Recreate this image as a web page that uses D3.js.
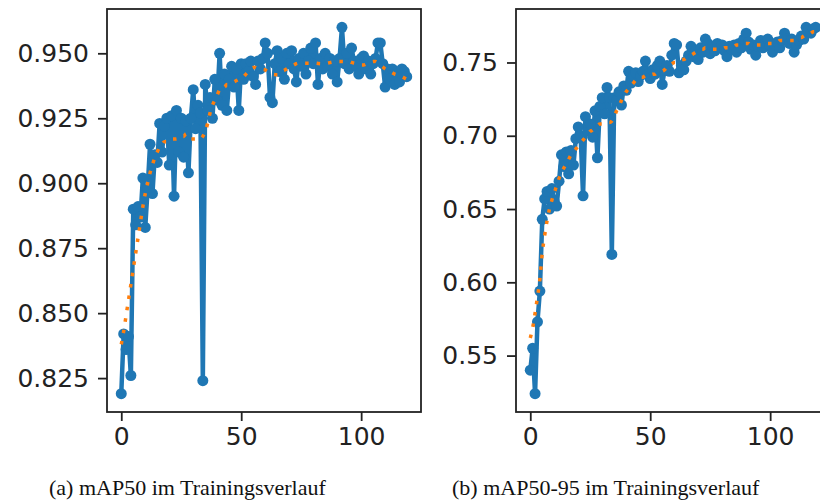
<!DOCTYPE html>
<html lang="de">
<head>
    <meta charset="utf-8">
    <title>mAP Trainingsverlauf</title>
    <script src="https://d3js.org/d3.v7.min.js"></script>
    <style>
        body {
            margin: 0;
            background-color: white;
        }

        svg {
            display: block;
            overflow: hidden;
        }

        .axis path, .axis line {
            fill: none;
            stroke: #222;
            stroke-width: 1.8px;
        }

        .axis text {
            fill: #222;
            font-family: "DejaVu Sans", sans-serif;
            font-size: 25px;
        }

        .frame {
            fill: none;
            stroke: #222;
            stroke-width: 1.8px;
        }

        .caption {
            font-family: "Liberation Serif", "DejaVu Serif", serif;
            font-size: 22px;
            fill: #111;
        }
    </style>
</head>
<body>
<div id="chart"></div>
<script>
    var epochs = d3.range(0, 120);

    var map50 = [
        0.819, 0.842, 0.836, 0.841, 0.826, 0.890, 0.884, 0.891, 0.887, 0.902,
        0.883, 0.898, 0.915, 0.896, 0.911, 0.908, 0.923, 0.912, 0.922, 0.925,
        0.907, 0.926, 0.895, 0.928, 0.912, 0.925, 0.910, 0.924, 0.904, 0.925,
        0.936, 0.921, 0.930, 0.927, 0.824, 0.938, 0.928, 0.933, 0.925, 0.940,
        0.932, 0.950, 0.930, 0.942, 0.928, 0.940, 0.945, 0.937, 0.944, 0.928,
        0.946, 0.940, 0.946, 0.943, 0.947, 0.941, 0.938, 0.947, 0.944, 0.948,
        0.954, 0.950, 0.933, 0.931, 0.946, 0.951, 0.943, 0.948, 0.940, 0.950,
        0.946, 0.951, 0.944, 0.939, 0.948, 0.945, 0.950, 0.942, 0.947, 0.952,
        0.946, 0.954, 0.938, 0.948, 0.944, 0.950, 0.945, 0.948, 0.942, 0.947,
        0.939, 0.948, 0.960, 0.946, 0.950, 0.944, 0.952, 0.947, 0.945, 0.942,
        0.948, 0.949, 0.944, 0.947, 0.942, 0.946, 0.948, 0.954, 0.954, 0.946,
        0.937, 0.944, 0.940, 0.944, 0.938, 0.942, 0.939, 0.944, 0.943, 0.941
    ];

    var map50Smooth = [
        0.838, 0.843, 0.849, 0.855, 0.861, 0.867, 0.873, 0.879, 0.885, 0.891,
        0.896, 0.900, 0.904, 0.907, 0.910, 0.912, 0.914, 0.915, 0.916, 0.916,
        0.917, 0.917, 0.917, 0.917, 0.918, 0.918, 0.918, 0.919, 0.918, 0.917,
        0.917, 0.917, 0.917, 0.917, 0.918, 0.920, 0.923, 0.927, 0.930, 0.932,
        0.934, 0.936, 0.937, 0.937, 0.938, 0.938, 0.9385, 0.939, 0.9395, 0.940,
        0.9405, 0.941, 0.942, 0.943, 0.944, 0.9445, 0.9445, 0.944, 0.944, 0.9438,
        0.9436, 0.943, 0.9425, 0.942, 0.9418, 0.9417, 0.942, 0.943, 0.9435, 0.944,
        0.9445, 0.945, 0.9455, 0.946, 0.9462, 0.9462, 0.9462, 0.9462, 0.9462, 0.9462,
        0.9462, 0.9462, 0.9461, 0.946, 0.946, 0.946, 0.9462, 0.9464, 0.9466, 0.9468,
        0.9468, 0.9468, 0.9468, 0.9468, 0.9468, 0.9468, 0.9465, 0.9462, 0.946, 0.9458,
        0.9455, 0.9455, 0.9458, 0.9462, 0.9465, 0.9468, 0.9468, 0.9462, 0.9455, 0.9448,
        0.944, 0.9435, 0.943, 0.9425, 0.942, 0.9417, 0.9412, 0.941, 0.9405, 0.940
    ];

    var map5095 = [
        0.540, 0.555, 0.524, 0.573, 0.594, 0.643, 0.657, 0.662, 0.650, 0.664,
        0.655, 0.652, 0.669, 0.687, 0.679, 0.689, 0.674, 0.690, 0.680, 0.698,
        0.706, 0.700, 0.659, 0.713, 0.703, 0.708, 0.699, 0.717, 0.685, 0.720,
        0.726, 0.715, 0.733, 0.726, 0.619, 0.726, 0.724, 0.730, 0.721, 0.734,
        0.731, 0.744, 0.736, 0.741, 0.743, 0.737, 0.741, 0.744, 0.751, 0.742,
        0.739, 0.745, 0.742, 0.748, 0.751, 0.735, 0.745, 0.748, 0.744, 0.755,
        0.763, 0.762, 0.743, 0.748, 0.745, 0.751, 0.755, 0.761, 0.754, 0.758,
        0.752, 0.760, 0.757, 0.766, 0.763, 0.756, 0.761, 0.758, 0.763, 0.760,
        0.762, 0.758, 0.754, 0.761, 0.759, 0.762, 0.757, 0.763, 0.760, 0.766,
        0.770, 0.764, 0.759, 0.762, 0.755, 0.761, 0.765, 0.760, 0.763, 0.766,
        0.761, 0.757, 0.762, 0.764, 0.760, 0.765, 0.770, 0.766, 0.763, 0.766,
        0.757, 0.762, 0.765, 0.768, 0.766, 0.774, 0.772, 0.770, 0.773, 0.774
    ];

    var map5095Smooth = [
        0.562, 0.569, 0.579, 0.590, 0.602, 0.620, 0.632, 0.642, 0.650, 0.656,
        0.661, 0.666, 0.671, 0.675, 0.678, 0.681, 0.684, 0.687, 0.689, 0.691,
        0.693, 0.695, 0.697, 0.699, 0.701, 0.703, 0.704, 0.706, 0.707, 0.708,
        0.708, 0.708, 0.709, 0.709, 0.710, 0.713, 0.717, 0.720, 0.724, 0.727,
        0.730, 0.732, 0.734, 0.736, 0.738, 0.739, 0.740, 0.740, 0.741, 0.741,
        0.741, 0.742, 0.742, 0.743, 0.743, 0.744, 0.745, 0.747, 0.748, 0.749,
        0.750, 0.750, 0.751, 0.752, 0.752, 0.753, 0.754, 0.755, 0.756, 0.757,
        0.758, 0.759, 0.759, 0.760, 0.760, 0.760, 0.759, 0.759, 0.759, 0.759,
        0.759, 0.760, 0.760, 0.760, 0.761, 0.761, 0.762, 0.762, 0.763, 0.763,
        0.763, 0.763, 0.762, 0.762, 0.762, 0.762, 0.762, 0.763, 0.763, 0.763,
        0.763, 0.763, 0.764, 0.764, 0.765, 0.765, 0.765, 0.765, 0.765, 0.765,
        0.765, 0.766, 0.767, 0.767, 0.768, 0.769, 0.769, 0.770, 0.771, 0.771
    ];

    var xTicks = [0, 50, 100];
    var yTicks50 = [0.825, 0.850, 0.875, 0.900, 0.925, 0.950];
    var yTicks5095 = [0.55, 0.60, 0.65, 0.70, 0.75];
    var captions = ["(a) mAP50 im Trainingsverlauf", "(b) mAP50-95 im Trainingsverlauf"];

    var W = 820, H = 502;
    var panelW = 314, panelTop = 9, panelBottom = 412;

    var svg = d3.select("#chart")
        .append("svg")
        .attr("width", W)
        .attr("height", H);

    // matplotlib style 5% padding around the data
    function padded(ext) {
        var m = (ext[1] - ext[0]) * 0.05;
        return [ext[0] - m, ext[1] + m];
    }

    function drawPanel(left, values, smooth, yTicks, fmt) {
        var x = d3.scaleLinear()
            .domain(padded(d3.extent(epochs)))
            .range([left, left + panelW]);
        var y = d3.scaleLinear()
            .domain(padded(d3.extent(values)))
            .range([panelBottom, panelTop]);

        var pts = epochs.map(function(e, i) { return [e, values[i]]; });
        var spts = epochs.map(function(e, i) { return [e, smooth[i]]; });

        var line = d3.line()
            .x(function(d) { return x(d[0]); })
            .y(function(d) { return y(d[1]); });

        svg.append("path")
            .datum(pts)
            .attr("d", line)
            .attr("fill", "none")
            .attr("stroke", "#1f77b4")
            .attr("stroke-width", 4.5)
            .attr("stroke-linejoin", "round");

        svg.append("g")
            .selectAll("circle")
            .data(pts)
            .enter().append("circle")
            .attr("cx", function(d) { return x(d[0]); })
            .attr("cy", function(d) { return y(d[1]); })
            .attr("r", 5.5)
            .attr("fill", "#1f77b4");

        svg.append("path")
            .datum(spts)
            .attr("d", line.curve(d3.curveMonotoneX))
            .attr("fill", "none")
            .attr("stroke", "#ff7f0e")
            .attr("stroke-width", 3.5)
            .attr("stroke-dasharray", "3.5,8");

        svg.append("rect")
            .attr("class", "frame")
            .attr("x", left)
            .attr("y", panelTop)
            .attr("width", panelW)
            .attr("height", panelBottom - panelTop);

        svg.append("g")
            .attr("class", "x axis")
            .attr("transform", "translate(0," + panelBottom + ")")
            .call(d3.axisBottom(x).tickValues(xTicks).tickSize(9).tickPadding(6).tickSizeOuter(0))
            .call(function(g) { g.select(".domain").remove(); });

        svg.append("g")
            .attr("class", "y axis")
            .attr("transform", "translate(" + left + ",0)")
            .call(d3.axisLeft(y).tickValues(yTicks).tickFormat(d3.format(fmt)).tickSize(9).tickPadding(9).tickSizeOuter(0))
            .call(function(g) { g.select(".domain").remove(); });
    }

    drawPanel(107, map50, map50Smooth, yTicks50, ".3f");
    drawPanel(516, map5095, map5095Smooth, yTicks5095, ".2f");

    svg.selectAll(".caption")
        .data(captions)
        .enter().append("text")
        .attr("class", "caption")
        .attr("x", function(d, i) { return i === 0 ? 49 : 452; })
        .attr("y", 495)
        .text(function(d) { return d; });
</script>
</body>
</html>
